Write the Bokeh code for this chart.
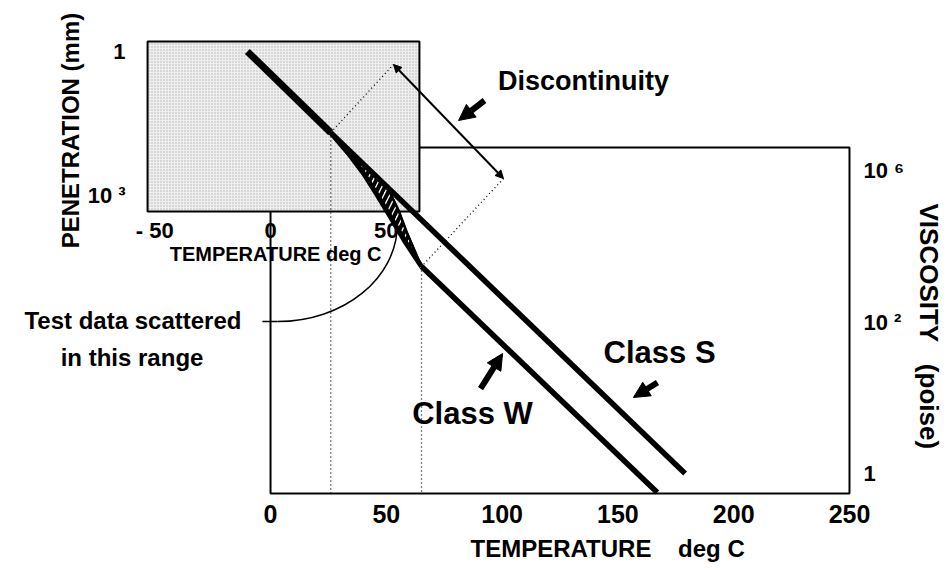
from math import pi
from bokeh.plotting import figure
from bokeh.models import Range1d, FixedTicker, Label, Arrow, NormalHead, Title
from bokeh.embed import file_html
from bokeh.resources import INLINE
from bokeh.core.properties import value

# ---------------- data ----------------
temp_ticks = [0, 50, 100, 150, 200, 250]
inset_temp_ticks = [-50, 0, 50]
inset_temp_labels = ["- 50", "0", "50"]
visc_ticks = [0, 1, 2]
visc_labels = ["1", "10 \u00b2", "10 \u2076"]
pen_ticks = [0, 3]
pen_labels = ["1", "10 \u00b3"]

# penetration line (inset, log10 penetration)
pen_T = [-10.0, 26.0]
pen_q = [0.0, 1.69]

# viscosity lines (main)
class_s_T = [26.0, 179.0]
class_s_Y = [2.25, 0.0]
branch_T = [26.0, 33.7, 40.2, 46.2, 52.2, 58.3, 65.2]
branch_Y = [2.25, 2.112, 1.98, 1.835, 1.683, 1.525, 1.366]
middle_T = [50.9, 55.3, 58.7, 62.2, 65.2]
middle_Y = [1.875, 1.736, 1.597, 1.472, 1.366]
class_w_T = [65.2, 167.0]
class_w_Y = [1.366, -0.125]

# discontinuity construction
disc_T = [26.0, 53.1, 100.6, 65.2]
disc_Y = [2.25, 2.70, 1.947, 1.366]

FONT = "Liberation Sans"

p = figure(frame_width=852, frame_height=495,
           x_range=Range1d(-116.6, 251.3), y_range=Range1d(-0.145, 3.122),
           y_axis_location="right", output_backend="svg", toolbar_location=None,
           title=None,
           min_border_left=0, min_border_right=60, min_border_top=0, min_border_bottom=40)
p.extra_y_ranges = {"pen": Range1d(start=9.25, end=-1.0625)}
p.xgrid.visible = False
p.ygrid.visible = False
p.outline_line_color = None
p.background_fill_color = "white"

def style_axis(ax, size, standoff):
    ax.axis_line_color = None
    ax.major_tick_line_color = None
    ax.minor_tick_line_color = None
    ax.major_tick_out = 0
    ax.major_tick_in = 0
    ax.major_label_text_font = FONT
    ax.major_label_text_font_style = "bold"
    ax.major_label_text_font_size = size
    ax.major_label_text_color = "black"
    ax.major_label_standoff = standoff

p.xaxis.ticker = FixedTicker(ticks=temp_ticks)
style_axis(p.xaxis[0], "25px", 9)
p.yaxis.ticker = FixedTicker(ticks=visc_ticks)
p.yaxis.major_label_overrides = dict(zip(visc_ticks, visc_labels))
style_axis(p.yaxis[0], "22px", 11)

# axis titles in the side panels
p.add_layout(Title(text="TEMPERATURE\u00a0\u00a0\u00a0\u00a0deg C", align="left", offset=470, standoff=14,
                   text_font=FONT, text_font_style="bold", text_font_size="24px",
                   text_color="black"), "below")
p.add_layout(Title(text="VISCOSITY\u00a0\u00a0\u00a0(poise)", align="left", offset=203, standoff=12,
                   text_font=FONT, text_font_style="bold", text_font_size="26px",
                   text_color="black"), "right")

# main box and inset box
p.quad(left=[0], right=[250], bottom=[-0.132], top=[2.152],
       fill_color=None, line_color="black", line_width=2)
p.quad(left=[-53.1], right=[64.3], bottom=[1.729], top=[2.851],
       fill_color="#efefef", line_color="black", line_width=2,
       hatch_pattern="dot", hatch_color="#b4b4b4", hatch_scale=3, hatch_weight=1)

# penetration tick labels (inset y axis)
p.text(x=[-62.6] * len(pen_ticks), y=pen_ticks, text=pen_labels, y_range_name="pen",
       text_font=value(FONT), text_font_style="bold", text_font_size="22px",
       text_align="right", text_baseline="middle", text_color="black")

# dotted construction lines
dot = dict(line_dash="1 3", line_width=1.3, color="black")
p.line([disc_T[0], disc_T[0]], [disc_Y[0], -0.132], **dot)
p.line([disc_T[3], disc_T[3]], [disc_Y[3], -0.132], **dot)
p.line(disc_T[0:2], disc_Y[0:2], **dot)
p.line(disc_T[2:4], disc_Y[2:4], **dot)
p.add_layout(Arrow(start=NormalHead(size=8, fill_color="black", line_color="black"),
                   end=NormalHead(size=8, fill_color="black", line_color="black"),
                   x_start=disc_T[1], y_start=disc_Y[1], x_end=disc_T[2], y_end=disc_Y[2],
                   line_width=2, line_color="black"))

# hatched scatter band
band_T = [class_s_T[0]] + middle_T + branch_T[::-1][1:]
band_Y = [class_s_Y[0]] + middle_Y + branch_Y[::-1][1:]
p.patch(band_T, band_Y, fill_color="white", line_color="black", line_width=2,
        hatch_pattern="/", hatch_color="black", hatch_scale=12, hatch_weight=4)

# curves
p.line(branch_T, branch_Y, line_width=5, color="black")
p.line(middle_T, middle_Y, line_width=2.5, color="black")
p.line(class_s_T, class_s_Y, line_width=5.5, color="black")
p.line(class_w_T, class_w_Y, line_width=5.5, color="black")
p.line(pen_T, pen_q, y_range_name="pen", line_width=7, color="black")

# "test data" leader
p.line([-3.5, 3.0], [1.003, 1.003], line_width=1.5, color="black")
p.bezier(x0=[3.0], y0=[1.003], x1=[54.8], y1=[1.65], cx0=[31.5], cy0=[1.003],
         cx1=[54.8], cy1=[1.287], line_color="black", line_width=1.5)

# inset temperature tick labels
p.text(x=inset_temp_ticks, y=[1.604] * 3, text=inset_temp_labels,
       text_font=value(FONT), text_font_style="bold", text_font_size="22px",
       text_align="center", text_baseline="middle", text_color="black")

def lab(x, y, text, size, angle=0.0):
    p.add_layout(Label(x=x, y=y, text=text, text_font=FONT, text_font_style="bold",
                       text_font_size=size, text_align="center", text_baseline="middle",
                       text_color="black", angle=angle))

lab(135.1, 2.594, "Discontinuity", "27px")
lab(87.2, 0.396, "Class W", "31px")
lab(168.0, 0.799, "Class S", "31px")
lab(-59.4, 1.010, "Test data scattered", "24px")
lab(-59.8, 0.766, "in this range", "24px")
lab(2.2, 1.446, "TEMPERATURE deg C", "20px")
lab(-86.4, 2.264, "PENETRATION (mm)", "24px", pi / 2)

fat = dict(fill_color="black", line_color="black", size=16)
p.add_layout(Arrow(end=NormalHead(**fat), x_start=92.4, y_start=2.462, x_end=81.2, y_end=2.33,
                   line_width=6, line_color="black"))
p.add_layout(Arrow(end=NormalHead(**fat), x_start=90.7, y_start=0.561, x_end=100.2, y_end=0.792,
                   line_width=6, line_color="black"))
p.add_layout(Arrow(end=NormalHead(**fat), x_start=167.1, y_start=0.601, x_end=156.7, y_end=0.502,
                   line_width=6, line_color="black"))

open("out.html", "w").write(file_html(p, INLINE))
